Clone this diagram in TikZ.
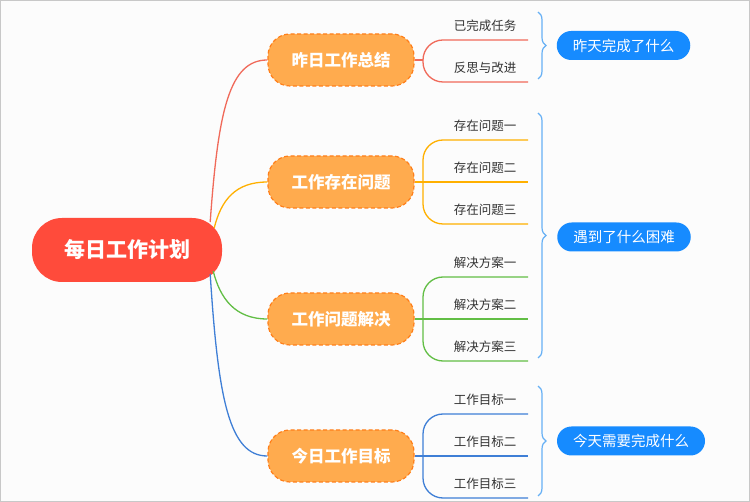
\documentclass[tikz,border=0pt]{standalone}
\usepackage{fontspec}
\setmainfont{Noto Sans CJK SC}
\usetikzlibrary{decorations.pathreplacing}
\definecolor{paper}{HTML}{FCFCFC}
\definecolor{frame}{HTML}{C8C8C8}
\definecolor{rootred}{HTML}{FF4B3B}
\definecolor{topicfill}{HTML}{FFAB4E}
\definecolor{topicedge}{HTML}{FF7F1A}
\definecolor{linered}{HTML}{F06A5A}
\definecolor{lineorange}{HTML}{FFB000}
\definecolor{linegreen}{HTML}{62BE45}
\definecolor{lineblue}{HTML}{3F7FD6}
\definecolor{braceblue}{HTML}{66B0F5}
\definecolor{noteblue}{HTML}{168BFF}
\definecolor{leaftext}{HTML}{333333}

\begin{document}
\begin{tikzpicture}[x=1pt,y=-1pt,
    rootbox/.style={fill=rootred,text=white,rounded corners=30pt,minimum width=190pt,minimum height=64pt,font=\fontsize{21pt}{21pt}\selectfont\bfseries},
    topic/.style={fill=topicfill,draw=topicedge,line width=1.2pt,dash pattern=on 4pt off 2.5pt,rounded corners=22pt,text=white,minimum width=146pt,minimum height=52pt,font=\fontsize{16.5pt}{16.5pt}\selectfont\bfseries},
    leaf/.style={anchor=south,text=leaftext,minimum width=86pt,minimum height=29pt,inner sep=0pt,font=\fontsize{12.5pt}{12.5pt}\selectfont},
    note/.style={fill=noteblue,text=white,rounded corners=14.5pt,minimum height=29pt,inner xsep=16pt,inner ysep=0pt,font=\fontsize{14.5pt}{14.5pt}\selectfont},
    stem/.style={line width=1.3pt},
    branch/.style={line width=1.3pt,rounded corners=20pt},
    grp/.style={draw=braceblue,line width=1.2pt,decorate,decoration={brace,amplitude=8pt}}]
            \useasboundingbox (0,0) rectangle (750,502);
            \draw[fill=paper,draw=frame,line width=1pt] (0.5,0.5) rectangle (749.5,501.5);
            \node[rootbox] (root) at (127,250) {每日工作计划};
            \node[topic] (t1) at (341,60) {昨日工作总结};
            \node[topic] (t2) at (341,182) {工作存在问题};
            \node[topic] (t3) at (341,319) {工作问题解决};
            \node[topic] (t4) at (341,456) {今日工作目标};
            \draw[stem,linered] ([shift={(-12,-28)}]root.east) .. controls +(8,-112) and +(-38,0) .. (t1.west);
            \draw[stem,lineorange] ([shift={(-8,-22)}]root.east) .. controls +(7,-28) and +(-32,0) .. (t2.west);
            \draw[stem,linegreen] ([shift={(-9,21)}]root.east) .. controls +(7,28) and +(-32,0) .. (t3.west);
            \draw[stem,lineblue] ([shift={(-12,24)}]root.east) .. controls +(8,126) and +(-38,0) .. (t4.west);
            \coordinate (j1) at (423,60);
            \coordinate (j2) at (423,182);
            \coordinate (j3) at (423,319);
            \coordinate (j4) at (423,456);
            \node[leaf] (l11) at (485,40) {已完成任务};
            \node[leaf] (l12) at (485,82) {反思与改进};
            \node[leaf] (l21) at (485,140) {存在问题一};
            \node[leaf] (l22) at (485,182) {存在问题二};
            \node[leaf] (l23) at (485,224) {存在问题三};
            \node[leaf] (l31) at (485,277) {解决方案一};
            \node[leaf] (l32) at (485,319) {解决方案二};
            \node[leaf] (l33) at (485,361) {解决方案三};
            \node[leaf] (l41) at (485,414) {工作目标一};
            \node[leaf] (l42) at (485,456) {工作目标二};
            \node[leaf] (l43) at (485,498) {工作目标三};
            \draw[stem,linered] (t1.east) -- (j1);
            \draw[branch,linered] (j1) |- (l11.south east);
            \draw[branch,linered] (j1) |- (l12.south east);
            \draw[stem,lineorange] (t2.east) -- (l22.south east);
            \draw[branch,lineorange] (j2) |- (l21.south east);
            \draw[branch,lineorange] (j2) |- (l23.south east);
            \draw[stem,linegreen] (t3.east) -- (l32.south east);
            \draw[branch,linegreen] (j3) |- (l31.south east);
            \draw[branch,linegreen] (j3) |- (l33.south east);
            \draw[stem,lineblue] (t4.east) -- (l42.south east);
            \draw[branch,lineblue] (j4) |- (l41.south east);
            \draw[branch,lineblue] (j4) |- (l43.south east);
            \coordinate (g1a) at (538,12);
            \coordinate (g1b) at (538,79);
            \coordinate (g2a) at (538,113);
            \coordinate (g2b) at (538,358);
            \coordinate (g3a) at (538,386);
            \coordinate (g3b) at (538,496);
            \draw[grp] (g1a) -- (g1b);
            \draw[grp] (g2a) -- (g2b);
            \draw[grp] (g3a) -- (g3b);
            \node[note] (n1) at (623.5,45.5) {昨天完成了什么};
            \node[note] (n2) at (624,237) {遇到了什么困难};
            \node[note] (n3) at (631,441) {今天需要完成什么};
        \end{tikzpicture}
\end{document}
